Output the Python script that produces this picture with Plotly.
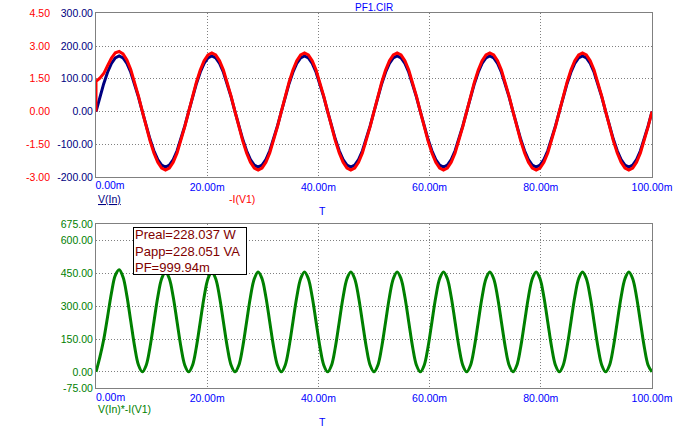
import plotly.graph_objects as go

# ---------------- data ----------------
# time in ms
T = [
    0, 0.694, 1.389, 2.083, 2.778, 3.472, 4.167, 4.861, 5.556, 6.25, 6.944, 7.639,
    8.333, 9.028, 9.722, 10.417, 11.111, 11.806, 12.5, 13.194, 13.889, 14.583, 15.278, 15.972,
    16.667, 17.361, 18.056, 18.75, 19.444, 20.139, 20.833, 21.528, 22.222, 22.917, 23.611, 24.306,
    25.0, 25.694, 26.389, 27.083, 27.778, 28.472, 29.167, 29.861, 30.556, 31.25, 31.944, 32.639,
    33.333, 34.028, 34.722, 35.417, 36.111, 36.806, 37.5, 38.194, 38.889, 39.583, 40.278, 40.972,
    41.667, 42.361, 43.056, 43.75, 44.444, 45.139, 45.833, 46.528, 47.222, 47.917, 48.611, 49.306,
    50.0, 50.694, 51.389, 52.083, 52.778, 53.472, 54.167, 54.861, 55.556, 56.25, 56.944, 57.639,
    58.333, 59.028, 59.722, 60.417, 61.111, 61.806, 62.5, 63.194, 63.889, 64.583, 65.278, 65.972,
    66.667, 67.361, 68.056, 68.75, 69.444, 70.139, 70.833, 71.528, 72.222, 72.917, 73.611, 74.306,
    75.0, 75.694, 76.389, 77.083, 77.778, 78.472, 79.167, 79.861, 80.556, 81.25, 81.944, 82.639,
    83.333, 84.028, 84.722, 85.417, 86.111, 86.806, 87.5, 88.194, 88.889, 89.583, 90.278, 90.972,
    91.667, 92.361, 93.056, 93.75, 94.444, 95.139, 95.833, 96.528, 97.222, 97.917, 98.611, 99.306,
    100.0,
]

# V(In) in volts
V_IN = [
    0, 43.9, 84.9, 120.0, 147.0, 163.9, 169.7, 163.9, 147.0, 120.0, 84.9, 43.9,
    0, -43.9, -84.9, -120.0, -147.0, -163.9, -169.7, -163.9, -147.0, -120.0, -84.9, -43.9,
    0, 43.9, 84.9, 120.0, 147.0, 163.9, 169.7, 163.9, 147.0, 120.0, 84.9, 43.9,
    0, -43.9, -84.9, -120.0, -147.0, -163.9, -169.7, -163.9, -147.0, -120.0, -84.9, -43.9,
    0, 43.9, 84.9, 120.0, 147.0, 163.9, 169.7, 163.9, 147.0, 120.0, 84.9, 43.9,
    0, -43.9, -84.9, -120.0, -147.0, -163.9, -169.7, -163.9, -147.0, -120.0, -84.9, -43.9,
    0, 43.9, 84.9, 120.0, 147.0, 163.9, 169.7, 163.9, 147.0, 120.0, 84.9, 43.9,
    0, -43.9, -84.9, -120.0, -147.0, -163.9, -169.7, -163.9, -147.0, -120.0, -84.9, -43.9,
    0, 43.9, 84.9, 120.0, 147.0, 163.9, 169.7, 163.9, 147.0, 120.0, 84.9, 43.9,
    0, -43.9, -84.9, -120.0, -147.0, -163.9, -169.7, -163.9, -147.0, -120.0, -84.9, -43.9,
    0, 43.9, 84.9, 120.0, 147.0, 163.9, 169.7, 163.9, 147.0, 120.0, 84.9, 43.9,
    0, -43.9, -84.9, -120.0, -147.0, -163.9, -169.7, -163.9, -147.0, -120.0, -84.9, -43.9,
    0,
]

# -I(V1) in amps (value just before the start step, then the samples)
I_START = 0.0
I_V1 = [
    1.38, 1.53, 1.74, 2.10, 2.45, 2.69, 2.75, 2.64, 2.36, 1.93, 1.37, 0.71,
    0.01, -0.695, -1.344, -1.900, -2.327, -2.595, -2.687, -2.595, -2.327, -1.900, -1.344, -0.695,
    0, 0.695, 1.344, 1.900, 2.327, 2.595, 2.687, 2.595, 2.327, 1.900, 1.344, 0.695,
    0, -0.695, -1.344, -1.900, -2.327, -2.595, -2.687, -2.595, -2.327, -1.900, -1.344, -0.695,
    0, 0.695, 1.344, 1.900, 2.327, 2.595, 2.687, 2.595, 2.327, 1.900, 1.344, 0.695,
    0, -0.695, -1.344, -1.900, -2.327, -2.595, -2.687, -2.595, -2.327, -1.900, -1.344, -0.695,
    0, 0.695, 1.344, 1.900, 2.327, 2.595, 2.687, 2.595, 2.327, 1.900, 1.344, 0.695,
    0, -0.695, -1.344, -1.900, -2.327, -2.595, -2.687, -2.595, -2.327, -1.900, -1.344, -0.695,
    0, 0.695, 1.344, 1.900, 2.327, 2.595, 2.687, 2.595, 2.327, 1.900, 1.344, 0.695,
    0, -0.695, -1.344, -1.900, -2.327, -2.595, -2.687, -2.595, -2.327, -1.900, -1.344, -0.695,
    0, 0.695, 1.344, 1.900, 2.327, 2.595, 2.687, 2.595, 2.327, 1.900, 1.344, 0.695,
    0, -0.695, -1.344, -1.900, -2.327, -2.595, -2.687, -2.595, -2.327, -1.900, -1.344, -0.695,
    0,
]

# V(In)*-I(V1) in watts
P_INST = [
    0, 67.2, 147.7, 252.0, 360.2, 440.9, 466.7, 432.7, 346.9, 231.6, 116.3, 31.2,
    0, 30.6, 114.0, 228.0, 342.0, 425.4, 456.0, 425.4, 342.0, 228.0, 114.0, 30.6,
    0, 30.6, 114.0, 228.0, 342.0, 425.4, 456.0, 425.4, 342.0, 228.0, 114.0, 30.6,
    0, 30.6, 114.0, 228.0, 342.0, 425.4, 456.0, 425.4, 342.0, 228.0, 114.0, 30.6,
    0, 30.6, 114.0, 228.0, 342.0, 425.4, 456.0, 425.4, 342.0, 228.0, 114.0, 30.6,
    0, 30.6, 114.0, 228.0, 342.0, 425.4, 456.0, 425.4, 342.0, 228.0, 114.0, 30.6,
    0, 30.6, 114.0, 228.0, 342.0, 425.4, 456.0, 425.4, 342.0, 228.0, 114.0, 30.6,
    0, 30.6, 114.0, 228.0, 342.0, 425.4, 456.0, 425.4, 342.0, 228.0, 114.0, 30.6,
    0, 30.6, 114.0, 228.0, 342.0, 425.4, 456.0, 425.4, 342.0, 228.0, 114.0, 30.6,
    0, 30.6, 114.0, 228.0, 342.0, 425.4, 456.0, 425.4, 342.0, 228.0, 114.0, 30.6,
    0, 30.6, 114.0, 228.0, 342.0, 425.4, 456.0, 425.4, 342.0, 228.0, 114.0, 30.6,
    0, 30.6, 114.0, 228.0, 342.0, 425.4, 456.0, 425.4, 342.0, 228.0, 114.0, 30.6,
    0,
]

X_TICKS = [0, 20, 40, 60, 80, 100]
X_TICK_TEXT = ["", "20.00m", "40.00m", "60.00m", "80.00m", "100.00m"]
X_FIRST_TICK = [0]
X_FIRST_TEXT = ["0.00m"]
V_TICKS = [-200, -100, 0, 100, 200, 300]
V_TICK_TEXT = ["-200.00", "-100.00", "0.00", "100.00", "200.00", "300.00"]
I_TICKS = [-3.0, -1.5, 0.0, 1.5, 3.0, 4.5]
I_TICK_TEXT = ["-3.00", "-1.50", "0.00", "1.50", "3.00", "4.50"]
P_TICKS = [-75, 0, 150, 300, 450, 600, 675]
P_TICK_TEXT = ["-75.00", "0.00", "150.00", "300.00", "450.00", "600.00", "675.00"]

TITLE = "PF1.CIR"
STATS = ["Preal=228.037 W", "Papp=228.051 VA", "PF=999.94m"]

# ---------------- figure ----------------
W, H = 681, 430
FONT = "Arial, Liberation Sans, sans-serif"
FS = 10.5
NAVY = "#000080"
RED = "#FF0000"
GREEN = "#008000"
BLUE = "#0000FF"
GRAY = "#808080"
DOT = "1px,2px"

def px_x(x):
    return x / W

def px_y(y):
    return 1 - y / H

fig = go.Figure()
fig.add_trace(go.Scatter(x=T, y=V_IN, mode="lines", line=dict(color=NAVY, width=3),
                         xaxis="x", yaxis="y", name="V(In)"))
fig.add_trace(go.Scatter(x=[T[0]] + T, y=[I_START] + I_V1, mode="lines",
                         line=dict(color=RED, width=3), xaxis="x3", yaxis="y3", name="-I(V1)"))
fig.add_trace(go.Scatter(x=T, y=P_INST, mode="lines", line=dict(color=GREEN, width=3, shape="spline"),
                         xaxis="x2", yaxis="y2", name="V(In)*-I(V1)"))

xdom = [px_x(96), px_x(652)]
common_x = dict(range=[0, 100], showgrid=True, tickvals=X_TICKS, ticktext=X_TICK_TEXT,
                gridcolor=GRAY, griddash=DOT, gridwidth=1, zeroline=False, showline=True,
                linecolor=GRAY, linewidth=1, mirror=True, ticks="", automargin=False,
                tickfont=dict(family=FONT, size=FS, color=BLUE), domain=xdom)
common_y = dict(showgrid=True, gridcolor=GRAY, griddash=DOT, gridwidth=1, zeroline=False,
                showline=True, linecolor=GRAY, linewidth=1, mirror=True, ticks="",
                automargin=False)

fig.update_layout(
    width=W, height=H, margin=dict(l=0, r=0, t=0, b=0, autoexpand=False),
    paper_bgcolor="white", plot_bgcolor="white", showlegend=False,
    xaxis=dict(anchor="y", **common_x),
    xaxis2=dict(anchor="y2", **common_x),
    # overlay axis carrying the first (left-shifted) time label of the top panel
    xaxis3=dict(anchor="y", overlaying="x", range=[0, 100], tickvals=X_FIRST_TICK,
                ticktext=X_FIRST_TEXT, showgrid=False, zeroline=False, showline=False,
                ticks="", automargin=False, ticklabelshift=14, side="bottom",
                tickfont=dict(family=FONT, size=FS, color=BLUE), domain=xdom),
    yaxis=dict(domain=[px_y(177), px_y(13.3)], range=[-200, 300], tickvals=V_TICKS,
               ticktext=V_TICK_TEXT, tickfont=dict(family=FONT, size=FS, color=NAVY),
               anchor="x", **common_y),
    yaxis3=dict(overlaying="y", anchor="free", position=px_x(50), side="left",
                range=[-3, 4.5], tickvals=I_TICKS, ticktext=I_TICK_TEXT,
                tickfont=dict(family=FONT, size=FS, color=RED), showgrid=False,
                zeroline=False, showline=False, ticks="", automargin=False),
    yaxis2=dict(domain=[px_y(388.3), px_y(224)], range=[-75, 675], tickvals=P_TICKS,
                ticktext=P_TICK_TEXT, tickfont=dict(family=FONT, size=FS, color=GREEN),
                anchor="x2", **common_y),
)

ann = [
    dict(text=TITLE, x=px_x(374), y=px_y(7), xanchor="center", yanchor="middle",
         font=dict(family=FONT, size=10, color=BLUE)),
    dict(text="<u>V(In)</u>", x=px_x(96), y=px_y(198.5), xanchor="left", yanchor="middle",
         font=dict(family=FONT, size=FS, color=NAVY)),
    dict(text="-I(V1)", x=px_x(227), y=px_y(198.5), xanchor="left", yanchor="middle",
         font=dict(family=FONT, size=FS, color=RED)),
    dict(text="T", x=px_x(322), y=px_y(210.5), xanchor="center", yanchor="middle",
         font=dict(family=FONT, size=FS, color=BLUE)),
    dict(text=X_FIRST_TEXT[0], x=px_x(110), y=px_y(396.8), xanchor="center", yanchor="middle",
         font=dict(family=FONT, size=FS, color=BLUE)),
    dict(text="V(In)*-I(V1)", x=px_x(96), y=px_y(408.5), xanchor="left", yanchor="middle",
         font=dict(family=FONT, size=FS, color=GREEN)),
    dict(text="T", x=px_x(322), y=px_y(421.5), xanchor="center", yanchor="middle",
         font=dict(family=FONT, size=FS, color=BLUE)),
    dict(text="<br>".join(STATS), x=px_x(133.3), y=px_y(226.7), xanchor="left", yanchor="top",
         align="left", width=110, height=44, borderpad=1, borderwidth=1, bordercolor="black",
         bgcolor="white", font=dict(family=FONT, size=13, color="#800000")),
]
for a in ann:
    a.update(xref="paper", yref="paper", showarrow=False)
fig.update_layout(annotations=ann)

fig.write_html("out.html", config={"displayModeBar": False},
               post_script="document.body.style.margin='0px';document.body.style.overflow='hidden';")
